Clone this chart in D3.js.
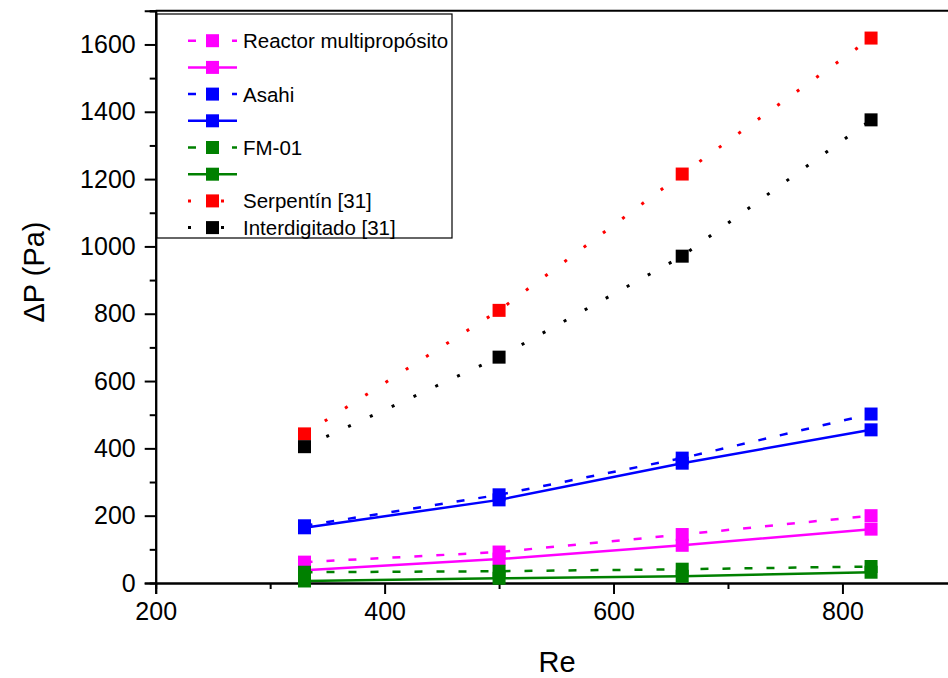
<!DOCTYPE html>
<html>
<head>
<meta charset="utf-8">
<script src="https://cdn.jsdelivr.net/npm/d3@7"></script>
<style>
  body { margin: 0; background: #fff; }
  svg { display: block; font-family: "Liberation Sans", Arial, sans-serif; }
</style>
</head>
<body>
<svg id="chart" width="948" height="678"></svg>
<script>
// Re values (x) and pressure drop (y, Pa)
var reValues = [330, 500, 660, 825];
var reactorDashed = [62, 92, 144, 200];
var reactorSolid = [38, 71, 112, 160];
var asahiDashed = [170, 262, 371, 502];
var asahiSolid = [164, 247, 356, 455];
var fmDashed = [32, 35, 41, 49];
var fmSolid = [6, 14, 20, 32];
var serpentin = [443, 810, 1215, 1619];
var interdigitado = [405, 671, 971, 1376];

var xTicks = [200, 400, 600, 800];
var yTicks = [0, 200, 400, 600, 800, 1000, 1200, 1400, 1600];

var series = [
    { name: "Reactor multipropósito", values: reactorDashed, color: "#ff00ff", style: "dash" },
    { name: "", values: reactorSolid, color: "#ff00ff", style: "solid" },
    { name: "Asahi", values: asahiDashed, color: "#0000ff", style: "dash" },
    { name: "", values: asahiSolid, color: "#0000ff", style: "solid" },
    { name: "FM-01", values: fmDashed, color: "#008000", style: "dash" },
    { name: "", values: fmSolid, color: "#008000", style: "solid" },
    { name: "Serpentín [31]", values: serpentin, color: "#ff0000", style: "dot" },
    { name: "Interdigitado [31]", values: interdigitado, color: "#000000", style: "dot" }
];

var dashes = { dash: "8,14", solid: null, dot: "3,21" };
var widths = { dash: 2.5, solid: 2.5, dot: 3 };

var svg = d3.select("#chart");

var x = d3.scaleLinear().domain([200, 900]).range([155.7, 956.9]);
var y = d3.scaleLinear().domain([0, 1700]).range([583, 10.8]);

// frame line along the top
svg.append("line")
    .attr("x1", x(200)).attr("x2", 948)
    .attr("y1", y(1700)).attr("y2", y(1700))
    .attr("stroke", "#000").attr("stroke-width", 2);

// minor ticks
var xAxisMinor = d3.axisBottom(x).tickValues([300, 500, 700, 900]).tickSize(6).tickFormat("");
var yAxisMinor = d3.axisLeft(y).tickValues(d3.range(100, 1800, 200)).tickSize(6).tickFormat("");

svg.append("g").attr("transform", "translate(0," + y(0) + ")").call(xAxisMinor);
svg.append("g").attr("transform", "translate(" + x(200) + ",0)").call(yAxisMinor);

var xAxis = d3.axisBottom(x).tickValues(xTicks).tickSize(11).tickPadding(8).tickFormat(d3.format("d"));
var yAxis = d3.axisLeft(y).tickValues(yTicks).tickSize(11).tickPadding(9).tickFormat(d3.format("d"));

var gx = svg.append("g").attr("transform", "translate(0," + y(0) + ")").call(xAxis);
var gy = svg.append("g").attr("transform", "translate(" + x(200) + ",0)").call(yAxis);

svg.selectAll(".domain").attr("stroke-width", 2);
svg.selectAll(".tick line").attr("stroke-width", 2);
gx.selectAll("text").attr("font-size", 25).attr("fill", "#000").attr("font-family", "Liberation Sans");
gy.selectAll("text").attr("font-size", 25).attr("fill", "#000").attr("font-family", "Liberation Sans");

// axis titles
svg.append("text")
    .attr("x", 557).attr("y", 672)
    .attr("text-anchor", "middle")
    .attr("font-size", 29)
    .text("Re");

svg.append("text")
    .attr("transform", "translate(44,272) rotate(-90)")
    .attr("text-anchor", "middle")
    .attr("font-size", 29)
    .text("ΔP (Pa)");

// series
var line = d3.line()
    .x(function (d, i) { return x(reValues[i]); })
    .y(function (d) { return y(d); });

var g = svg.selectAll(".series")
    .data(series)
    .enter()
    .append("g")
    .attr("class", "series");

g.append("path")
    .attr("d", function (d) { return line(d.values); })
    .attr("fill", "none")
    .attr("stroke", function (d) { return d.color; })
    .attr("stroke-width", function (d) { return widths[d.style]; })
    .attr("stroke-dasharray", function (d) { return dashes[d.style]; });

g.selectAll("rect")
    .data(function (d) {
        return d.values.map(function (v, i) { return { v: v, re: reValues[i], color: d.color }; });
    })
    .enter()
    .append("rect")
    .attr("x", function (d) { return x(d.re) - 6.5; })
    .attr("y", function (d) { return y(d.v) - 6.5; })
    .attr("width", 13)
    .attr("height", 13)
    .attr("fill", function (d) { return d.color; });

// legend
var legend = svg.append("g");
legend.append("rect")
    .attr("x", 157).attr("y", 14)
    .attr("width", 295).attr("height", 224)
    .attr("fill", "#fff")
    .attr("stroke", "#000")
    .attr("stroke-width", 1.2);

var rows = legend.selectAll(".row")
    .data(series)
    .enter()
    .append("g")
    .attr("transform", function (d, i) { return "translate(0," + (40.7 + i * 26.7) + ")"; });

rows.append("line")
    .attr("x1", 188).attr("x2", function (d) { return d.style === "dot" ? 225 : 237; })
    .attr("y1", 0).attr("y2", 0)
    .attr("stroke", function (d) { return d.color; })
    .attr("stroke-width", function (d) { return widths[d.style]; })
    .attr("stroke-dasharray", function (d) { return d.style === "dot" ? "3,30" : dashes[d.style]; });

rows.append("rect")
    .attr("x", 206).attr("y", -6.5)
    .attr("width", 13).attr("height", 13)
    .attr("fill", function (d) { return d.color; });

rows.append("text")
    .attr("x", 243).attr("y", 7.5)
    .attr("font-size", 20.5)
    .text(function (d) { return d.name; });
</script>
</body>
</html>
